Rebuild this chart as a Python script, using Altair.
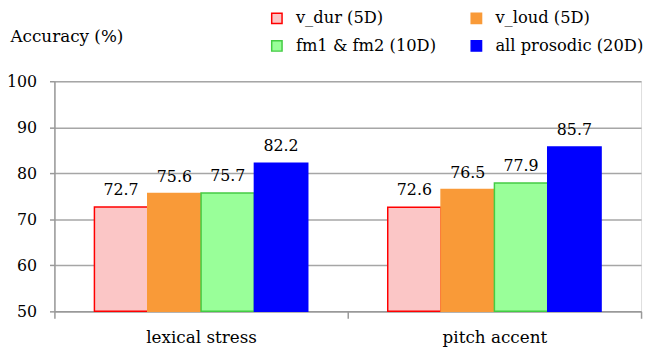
import altair as alt
import pandas as pd

categories = ["lexical stress", "pitch accent"]
series = ["v_dur (5D)", "v_loud (5D)", "fm1 & fm2 (10D)", "all prosodic (20D)"]
values = {
    "lexical stress": [72.7, 75.6, 75.7, 82.2],
    "pitch accent": [72.6, 76.5, 77.9, 85.7],
}
fill_colors = ["#fbc6c6", "#f99a38", "#99ff99", "#0000ff"]
stroke_colors = ["#ff0000", "#f99a38", "#44cc44", "#0000ff"]

rows = []
for c in categories:
    for s, v in zip(series, values[c]):
        rows.append({"category": c, "series": s, "value": v, "label": f"{v:.1f}"})
df = pd.DataFrame(rows)

FONT = "DejaVu Serif"
NUM_SIZE = 16
TXT_SIZE = 17

x = alt.X("category:N", sort=categories, title=None,
          scale=alt.Scale(paddingInner=0, paddingOuter=0),
          axis=alt.Axis(labelAngle=0, labelFont=FONT, labelFontSize=TXT_SIZE, labelColor="black",
                        domainColor="#999999", domainWidth=1.5, tickColor="#999999",
                        tickWidth=1.5, tickSize=7, tickBand="extent", labelPadding=12,
                        grid=False))
xoff = alt.XOffset("series:N", sort=series,
                   scale=alt.Scale(paddingInner=0, paddingOuter=0.75))
y = alt.Y("value:Q",
          scale=alt.Scale(domain=[50, 100], zero=False, nice=False),
          axis=alt.Axis(values=[50, 60, 70, 80, 90, 100], title="Accuracy (%)",
                        titleAngle=0, titleAlign="left", titleBaseline="middle",
                        titleX=-45, titleY=-45, titleFont=FONT, titleFontSize=TXT_SIZE,
                        titleFontWeight="normal", titleColor="black",
                        labelFont=FONT, labelFontSize=NUM_SIZE, labelColor="black",
                        labelPadding=13, tickSize=5, tickColor="#999999", tickWidth=1.5,
                        domainColor="#999999", domainWidth=1.5,
                        gridColor="#a6a6a6", gridWidth=1.5))

legend = alt.Legend(orient="none", legendX=217, legendY=-72, columns=2, title=None,
                    direction="horizontal",
                    symbolType="square", symbolSize=110, symbolStrokeWidth=1.5,
                    labelFont=FONT, labelFontSize=16.5, labelColor="black",
                    labelOffset=11, columnPadding=32, rowPadding=11, padding=0,
                    labelLimit=300)

bars = alt.Chart(df).mark_bar(strokeWidth=1.5).encode(
    x=x, xOffset=xoff, y=y, y2=alt.datum(50),
    fill=alt.Fill("series:N", sort=series,
                  scale=alt.Scale(domain=series, range=fill_colors), legend=legend),
    stroke=alt.Stroke("series:N", sort=series,
                      scale=alt.Scale(domain=series, range=stroke_colors), legend=legend),
)

text = alt.Chart(df).mark_text(font=FONT, fontSize=NUM_SIZE, color="black",
                               baseline="alphabetic", dy=-12).encode(
    x=alt.X("category:N", sort=categories), xOffset=xoff,
    y=alt.Y("value:Q"), text="label:N",
)

chart = alt.layer(bars, text).properties(
    width=594, height=233,
    autosize=alt.AutoSizeParams(type="none"),
    padding={"left": 47, "top": 72, "right": 5, "bottom": 40},
).configure_view(stroke=None).configure(background="white")

chart.save("out.html", embed_options={"renderer": "svg", "actions": False})
